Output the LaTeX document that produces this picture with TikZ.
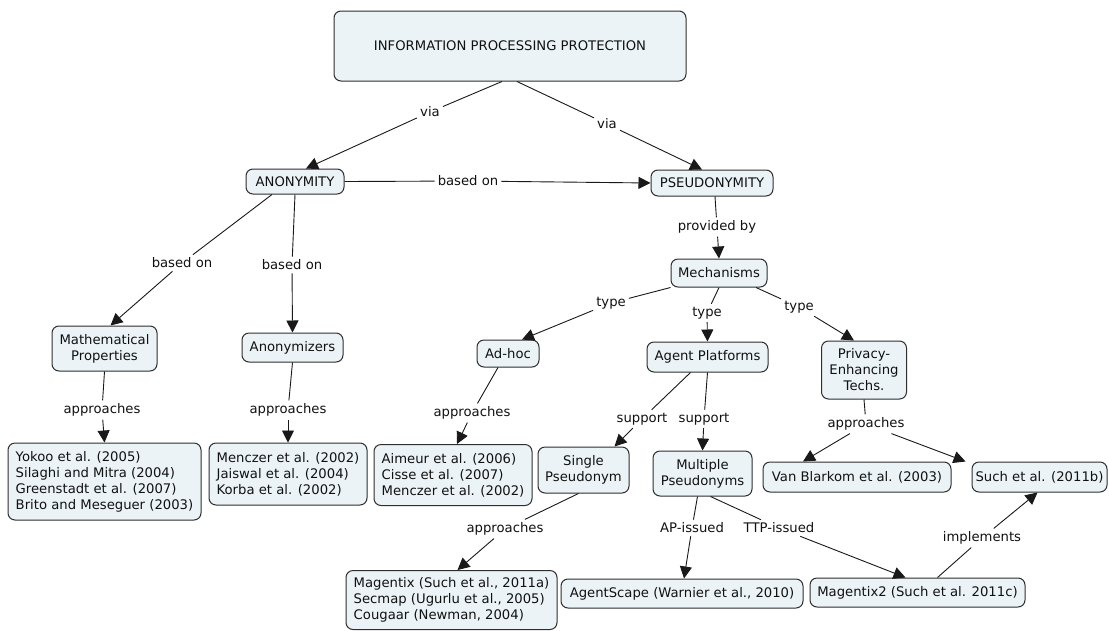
\documentclass[tikz,border=0pt]{standalone}
\usepackage{fontspec}
\setmainfont{DejaVu Sans}
\usetikzlibrary{arrows.meta}
\definecolor{boxfill}{HTML}{ECF3F6}
\definecolor{boxline}{HTML}{2E2E2E}
\definecolor{txt}{HTML}{111111}
\begin{document}
\begin{tikzpicture}[x=1pt,y=-1pt,
  font=\fontsize{13.2}{16}\selectfont,
  concept/.style={draw=boxline, fill=boxfill, rounded corners=7pt, line width=1pt, inner sep=0pt, align=center, text=txt},
  cb/.style n args={2}{concept, minimum width=#1, minimum height=#2},
  phrase/.style={inner sep=3pt, text=txt},
  link/.style={draw=black!90, line width=0.9pt},
  arr/.style={link, -{Triangle[length=12pt,width=12pt]}}]
\fill[white] (0,0) rectangle (1109,630);
\path[use as bounding box] (0,0) rectangle (1109,630);

% concepts
\node[cb={352pt}{70pt}] (top) at (510,46) {INFORMATION PROCESSING PROTECTION};
\node[cb={98pt}{25pt}] (anon) at (295,181.5) {ANONYMITY};
\node[cb={122pt}{26pt}] (pseudo) at (712,183) {PSEUDONYMITY};
\node[cb={96pt}{28pt}] (mech) at (719,273) {Mechanisms};
\node[cb={105pt}{45pt}] (math) at (104.5,348.5) {Mathematical\\Properties};
\node[cb={101pt}{29pt}] (anonz) at (292.5,347.5) {Anonymizers};
\node[cb={62pt}{27pt}] (adhoc) at (508,353.5) {Ad-hoc};
\node[cb={121pt}{30pt}] (agentp) at (707.5,357) {Agent Platforms};
\node[cb={85pt}{58pt}] (privacy) at (864,370) {Privacy-\\Enhancing\\Techs.};
\node[cb={193pt}{77pt}, align=left] (yokoo) at (104.5,481.5) {Yokoo et al. (2005)\\Silaghi and Mitra (2004)\\Greenstadt et al. (2007)\\Brito and Meseguer (2003)};
\node[cb={158pt}{62pt}, align=left] (menczer) at (288,474) {Menczer et al. (2002)\\Jaiswal et al. (2004)\\Korba et al. (2002)};
\node[cb={158pt}{61pt}, align=left] (aimeur) at (453,475) {Aimeur et al. (2006)\\Cisse et al. (2007)\\Menczer et al. (2002)};
\node[cb={91pt}{46pt}] (single) at (583.5,470) {Single\\Pseudonym};
\node[cb={99pt}{45pt}] (multiple) at (702.5,473.5) {Multiple\\Pseudonyms};
\node[cb={188pt}{30pt}] (vanb) at (857,477) {Van Blarkom et al. (2003)};
\node[cb={135pt}{30pt}] (such) at (1039.5,477) {Such et al. (2011b)};
\node[cb={211pt}{59pt}, align=left] (magentix) at (451.5,600) {Magentix (Such et al., 2011a)\\Secmap (Ugurlu et al., 2005)\\Cougaar (Newman, 2004)};
\node[cb={242pt}{29pt}] (agentscape) at (682,593.5) {AgentScape (Warnier et al., 2010)};
\node[cb={215pt}{29pt}] (magentix2) at (917.5,592.5) {Magentix2 (Such et al. 2011c)};

% linking phrases
\node[phrase] (via1) at (430,112) {via};
\node[phrase] (via2) at (607,124) {via};
\node[phrase] (bo1) at (468,181) {based on};
\node[phrase] (prov) at (717,227) {provided by};
\node[phrase] (bo2) at (182,263) {based on};
\node[phrase] (bo3) at (292,265) {based on};
\node[phrase] (type1) at (611,303) {type};
\node[phrase] (type2) at (707,313) {type};
\node[phrase] (type3) at (799,307) {type};
\node[phrase] (ap1) at (102,410) {approaches};
\node[phrase] (ap2) at (288,410) {approaches};
\node[phrase] (ap3) at (472,413) {approaches};
\node[phrase] (sup1) at (642,419) {support};
\node[phrase] (sup2) at (704,419) {support};
\node[phrase] (ap4) at (866,424) {approaches};
\node[phrase] (ap5) at (505,529) {approaches};
\node[phrase] (apiss) at (692,528) {AP-issued};
\node[phrase] (ttpiss) at (779,528) {TTP-issued};
\node[phrase] (impl) at (982,538) {implements};

% connectors
\draw[link] ([xshift=-8pt]top.south) -- (via1);
\draw[arr] (via1) -- ([xshift=11pt]anon.north);
\draw[link] ([xshift=7pt]top.south) -- (via2);
\draw[arr] (via2) -- ([xshift=-10pt]pseudo.north);
\draw[link] (anon.east) -- (bo1);
\draw[arr] (bo1) -- (pseudo.west);
\draw[link] ([xshift=3pt]pseudo.south) -- (prov);
\draw[arr] (prov) -- (mech.north);
\draw[link] ([xshift=-23pt]anon.south) -- (bo2);
\draw[arr] (bo2) -- ([xshift=6pt]math.north);
\draw[link] (anon.south) -- (bo3);
\draw[arr] (bo3) -- (anonz.north);
\draw[link] (mech.south west) -- (type1);
\draw[arr] (type1) -- ([xshift=14pt]adhoc.north);
\draw[link] (mech.south) -- (type2);
\draw[arr] (type2) -- (agentp.north);
\draw[link] ([xshift=37pt]mech.south) -- (type3);
\draw[arr] (type3) -- ([xshift=-10pt]privacy.north);
\draw[link] (math.south) -- (ap1);
\draw[arr] (ap1) -- (yokoo.north);
\draw[link] (anonz.south) -- (ap2);
\draw[arr] (ap2) -- (menczer.north);
\draw[link] ([xshift=-10pt]adhoc.south) -- (ap3);
\draw[arr] (ap3) -- ([xshift=4pt]aimeur.north);
\draw[link] ([xshift=-17pt]agentp.south) -- (sup1);
\draw[arr] (sup1) -- ([xshift=31pt]single.north);
\draw[link] (agentp.south) -- (sup2);
\draw[arr] (sup2) -- (multiple.north);
\draw[link] (privacy.south) -- (ap4);
\draw[arr] (ap4) -- ([xshift=-54pt]vanb.north);
\draw[arr] (ap4) -- ([xshift=-6pt]such.north west);
\draw[link] ([xshift=-5pt]single.south) -- (ap5);
\draw[arr] (ap5) -- ([xshift=6pt]magentix.north);
\draw[link] ([xshift=-5pt]multiple.south) -- (apiss);
\draw[arr] (apiss) -- ([xshift=2pt]agentscape.north);
\draw[link] ([xshift=8pt]multiple.south) -- (ttpiss);
\draw[arr] (ttpiss) -- ([xshift=-12pt]magentix2.north);
\draw[link] ([xshift=20pt]magentix2.north) -- (impl);
\draw[arr] (impl) -- ([xshift=-2pt]such.south);
\end{tikzpicture}
\end{document}
